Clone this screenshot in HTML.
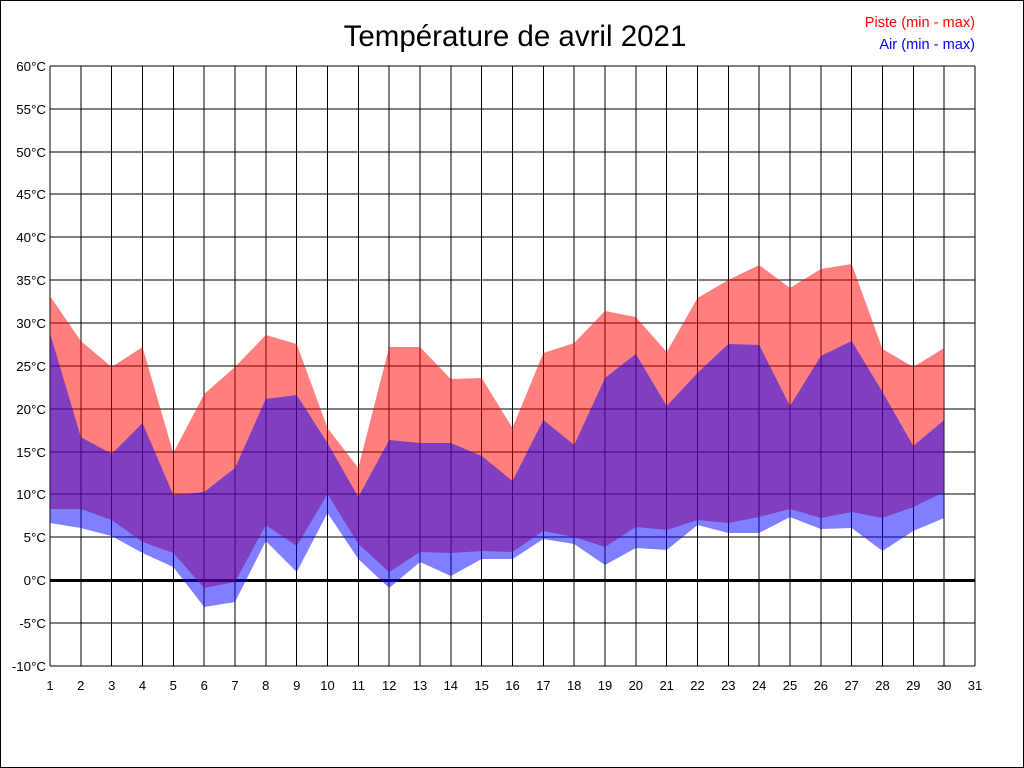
<!DOCTYPE html>
<html><head><meta charset="utf-8"><style>
html,body{margin:0;padding:0;background:#fff}
svg{display:block;font-family:"Liberation Sans",Arial,sans-serif}
</style></head><body>
<svg width="1024" height="768" viewBox="0 0 1024 768" xmlns="http://www.w3.org/2000/svg">
<rect x="0.5" y="0.5" width="1023" height="767" fill="#fff" stroke="#000"/>
<text x="515" y="46" font-size="29.5" text-anchor="middle">Température de avril 2021</text>
<text x="975" y="27" font-size="14.6" fill="#ff0000" text-anchor="end">Piste (min - max)</text>
<text x="975" y="49" font-size="14.6" fill="#0000ff" text-anchor="end">Air (min - max)</text>
<g stroke="#000" stroke-width="1" shape-rendering="crispEdges">
<path d="M50 66H975M50 109H975M50 152H975M50 194H975M50 237H975M50 280H975M50 323H975M50 366H975M50 409H975M50 452H975M50 494H975M50 537H975M50 623H975M50 666H975"/>
<path d="M50 66V666M80.8 66V666M111.7 66V666M142.5 66V666M173.3 66V666M204.2 66V666M235 66V666M265.8 66V666M296.7 66V666M327.5 66V666M358.3 66V666M389.2 66V666M420 66V666M450.8 66V666M481.7 66V666M512.5 66V666M543.3 66V666M574.2 66V666M605 66V666M635.8 66V666M666.7 66V666M697.5 66V666M728.3 66V666M759.2 66V666M790 66V666M820.8 66V666M851.7 66V666M882.5 66V666M913.3 66V666M944.2 66V666M975 66V666"/>
</g>
<rect x="50" y="579" width="925" height="3" fill="#000"/>
<polygon fill="#ff0000" fill-opacity="0.5" points="50,296 80.8,341 111.7,367 142.5,347 173.3,453 204.2,394 235,367 265.8,335 296.7,344 327.5,428 358.3,468 389.2,347 420,347 450.8,379 481.7,378 512.5,428 543.3,353 574.2,343 605,311 635.8,317 666.7,352 697.5,298 728.3,280 759.2,265 790,288 820.8,269 851.7,264 882.5,349 913.3,367 944.2,348 944.2,492 913.3,507 882.5,518 851.7,512 820.8,518 790,509 759.2,517 728.3,523 697.5,520 666.7,530 635.8,527 605,547 574.2,537 543.3,531 512.5,552 481.7,551 450.8,553 420,552 389.2,572 358.3,544 327.5,494 296.7,546 265.8,525 235,582 204.2,588 173.3,553 142.5,542 111.7,520 80.8,509 50,509"/>
<polygon fill="#0000ff" fill-opacity="0.5" points="50,333 80.8,437 111.7,454 142.5,423 173.3,495 204.2,492 235,468 265.8,399 296.7,395 327.5,443 358.3,497 389.2,440 420,443 450.8,443 481.7,456 512.5,481 543.3,420 574.2,445 605,378 635.8,354 666.7,406 697.5,373 728.3,344 759.2,345 790,406 820.8,356 851.7,341 882.5,392 913.3,446 944.2,420 944.2,518 913.3,531 882.5,551 851.7,528 820.8,529 790,517 759.2,533 728.3,533 697.5,525 666.7,550 635.8,548 605,565 574.2,544 543.3,539 512.5,559 481.7,559 450.8,576 420,562 389.2,588 358.3,559 327.5,513 296.7,572 265.8,541 235,602 204.2,607 173.3,567 142.5,553 111.7,536 80.8,528 50,523"/>
<g font-size="13.3" text-anchor="end" fill="#000">
<text x="46" y="71">60°C</text><text x="46" y="114">55°C</text><text x="46" y="157">50°C</text><text x="46" y="199">45°C</text><text x="46" y="242">40°C</text><text x="46" y="285">35°C</text><text x="46" y="328">30°C</text><text x="46" y="371">25°C</text><text x="46" y="414">20°C</text><text x="46" y="457">15°C</text><text x="46" y="499">10°C</text><text x="46" y="542">5°C</text><text x="46" y="585">0°C</text><text x="46" y="628">-5°C</text><text x="46" y="671">-10°C</text>
</g>
<g font-size="13" text-anchor="middle" fill="#000">
<text x="50" y="690">1</text><text x="80.8" y="690">2</text><text x="111.7" y="690">3</text><text x="142.5" y="690">4</text><text x="173.3" y="690">5</text><text x="204.2" y="690">6</text><text x="235" y="690">7</text><text x="265.8" y="690">8</text><text x="296.7" y="690">9</text><text x="327.5" y="690">10</text><text x="358.3" y="690">11</text><text x="389.2" y="690">12</text><text x="420" y="690">13</text><text x="450.8" y="690">14</text><text x="481.7" y="690">15</text><text x="512.5" y="690">16</text><text x="543.3" y="690">17</text><text x="574.2" y="690">18</text><text x="605" y="690">19</text><text x="635.8" y="690">20</text><text x="666.7" y="690">21</text><text x="697.5" y="690">22</text><text x="728.3" y="690">23</text><text x="759.2" y="690">24</text><text x="790" y="690">25</text><text x="820.8" y="690">26</text><text x="851.7" y="690">27</text><text x="882.5" y="690">28</text><text x="913.3" y="690">29</text><text x="944.2" y="690">30</text><text x="975" y="690">31</text>
</g>
</svg>
</body></html>
